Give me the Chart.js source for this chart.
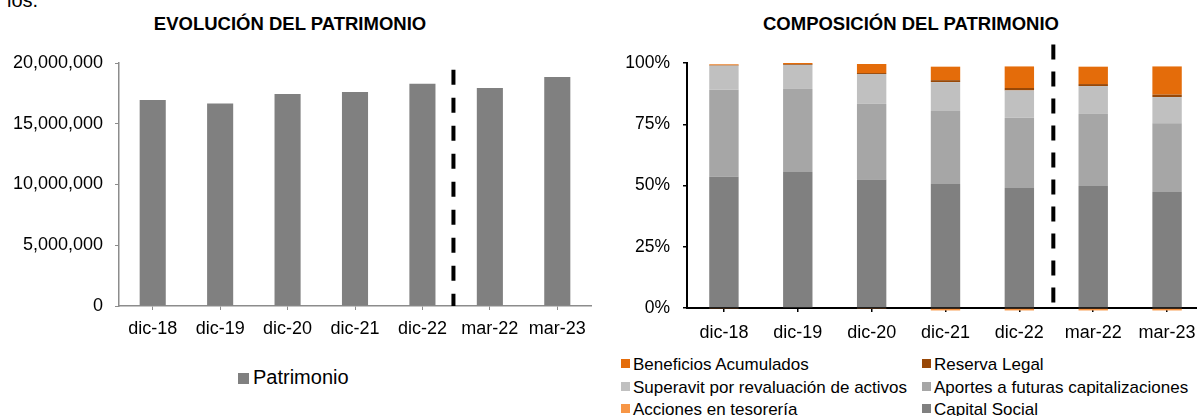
<!DOCTYPE html>
<html>
<head>
<meta charset="utf-8">
<script src="https://cdn.jsdelivr.net/npm/chart.js@4/dist/chart.umd.min.js"></script>
<style>
  html, body { margin: 0; padding: 0; background: #fff; }
  #page { position: relative; width: 1197px; height: 416px; overflow: hidden; font-family: 'Liberation Sans', Arial, sans-serif; color: #000; }
  canvas { position: absolute; top: 0; }
  .title { position: absolute; top: 15px; font-weight: bold; font-size: 18.5px; line-height: 18px; text-align: center; white-space: nowrap; }
  .lg { position: absolute; white-space: nowrap; }
  .lg .sw { position: absolute; left: 0; }
</style>
</head>
<body>
<div id="page">
  <div style="position:absolute;left:7px;top:-10px;font-size:20px;line-height:20px;">ios.</div>
  <div class="title" style="left:0;width:580px;">EVOLUCIÓN DEL PATRIMONIO</div>
  <div class="title" style="left:611px;width:600px;">COMPOSICIÓN DEL PATRIMONIO</div>
  <canvas id="c1" width="600" height="345" style="left:0"></canvas>
  <canvas id="c2" width="620" height="345" style="left:600px"></canvas>
  <div id="legend1"></div>
  <div id="legend2"></div>
</div>
<script>
// ---- Data ----
const categories = ['dic-18', 'dic-19', 'dic-20', 'dic-21', 'dic-22', 'mar-22', 'mar-23'];

const patrimonio = [16950000, 16670000, 17440000, 17610000, 18290000, 17940000, 18850000];
const patrimonioTicks = [0, 5000000, 10000000, 15000000, 20000000];

const capitalSocial   = [53.6, 55.5, 52.4, 50.6, 49.0, 49.8, 47.3];
const accionesTesoro  = [-0.4, 0.0, -0.2, -1.0, -1.0, -1.0, -1.0];
const aportesFuturas  = [35.5, 33.9, 30.9, 29.8, 28.6, 29.4, 28.1];
const superavit       = [9.8, 9.8, 12.2, 11.8, 11.2, 11.4, 10.7];
const reservaLegal    = [0.2, 0.3, 0.4, 0.8, 1.0, 0.8, 1.0];
const beneficiosAcum  = [0.35, 0.5, 3.7, 5.5, 8.8, 7.1, 11.5];
const pctTicks = [0, 25, 50, 75, 100];

const dividerAt = 4.46;           // separator between dic-22 and mar-22 (category index)
const dividerTopLeft = 19450000;  // top end of the separator, in value units
const dividerTopRight = 107.6;

Chart.defaults.font.family = "'Liberation Sans', Arial, sans-serif";
Chart.defaults.color = '#000';

function dividerPlugin(topValue, dash) {
  return {
    id: 'divider',
    afterDatasetsDraw(chart) {
      const x = chart.scales.x.getPixelForValue(dividerAt);
      const yTop = chart.scales.y.getPixelForValue(topValue);
      const yBot = chart.scales.y.getPixelForValue(0);
      const ctx = chart.ctx;
      ctx.save();
      ctx.strokeStyle = '#000';
      ctx.lineWidth = 4;
      ctx.setLineDash(dash);
      ctx.beginPath();
      ctx.moveTo(x, yTop);
      ctx.lineTo(x, yBot);
      ctx.stroke();
      ctx.restore();
    }
  };
}

// ---- Left chart ----
const leftDatasets = [
  { label: 'Patrimonio', data: patrimonio, backgroundColor: '#808080', barPercentage: 0.387, categoryPercentage: 1 }
];
new Chart(document.getElementById('c1'), {
  type: 'bar',
  data: { labels: categories, datasets: leftDatasets },
  options: {
    responsive: false, animation: false, devicePixelRatio: 1,
    layout: { padding: { top: 63, right: 9, left: 0, bottom: 0 } },
    plugins: { legend: { display: false }, tooltip: { enabled: false }, title: { display: false } },
    scales: {
      x: {
        afterFit: s => { s.height = 39; },
        grid: { display: true, drawOnChartArea: false, drawTicks: true, tickLength: 4, color: '#8c8c8c', offset: false },
        border: { display: true, color: '#8c8c8c', width: 1.5 },
        ticks: { font: { size: 18 }, padding: 8, maxRotation: 0, autoSkip: false, color: '#000' }
      },
      y: {
        min: 0, max: 20000000,
        afterFit: s => { s.width = 119; },
        afterBuildTicks: s => { s.ticks = patrimonioTicks.map(v => ({ value: v })); },
        grid: { display: true, drawOnChartArea: false, drawTicks: true, tickLength: 4, color: '#8c8c8c' },
        border: { display: true, color: '#8c8c8c', width: 1.5 },
        ticks: { font: { size: 18 }, padding: 12, color: '#000', callback: v => v.toLocaleString('en-US') }
      }
    }
  },
  plugins: [dividerPlugin(dividerTopLeft, [15, 13])]
});

// ---- Right chart ----
const rightDatasets = [
  { label: 'Capital Social', data: capitalSocial, backgroundColor: '#808080' },
  { label: 'Acciones en tesorería', data: accionesTesoro, backgroundColor: '#F79646' },
  { label: 'Aportes a futuras capitalizaciones', data: aportesFuturas, backgroundColor: '#A6A6A6' },
  { label: 'Superavit por revaluación de activos', data: superavit, backgroundColor: '#C0C0C0' },
  { label: 'Reserva Legal', data: reservaLegal, backgroundColor: '#984807' },
  { label: 'Beneficios Acumulados', data: beneficiosAcum, backgroundColor: '#E46C0A' }
].map(d => Object.assign(d, { barPercentage: 0.398, categoryPercentage: 1, clip: false }));

new Chart(document.getElementById('c2'), {
  type: 'bar',
  data: { labels: categories, datasets: rightDatasets },
  options: {
    responsive: false, animation: false, devicePixelRatio: 1,
    layout: { padding: { top: 63, right: 16, left: 0, bottom: 0 } },
    plugins: { legend: { display: false }, tooltip: { enabled: false }, title: { display: false } },
    scales: {
      x: {
        stacked: true,
        afterFit: s => { s.height = 37; },
        grid: { display: true, drawOnChartArea: false, drawTicks: true, tickLength: 4, color: '#000', offset: false, lineWidth: 1.5 },
        border: { display: true, color: '#000', width: 2 },
        ticks: { font: { size: 18 }, padding: 10, maxRotation: 0, autoSkip: false, color: '#000' }
      },
      y: {
        stacked: true, min: 0, max: 100,
        afterFit: s => { s.width = 87; },
        afterBuildTicks: s => { s.ticks = pctTicks.map(v => ({ value: v })); },
        grid: { display: true, drawOnChartArea: false, drawTicks: true, tickLength: 4, color: '#000', lineWidth: 1.5 },
        border: { display: true, color: '#000', width: 2 },
        ticks: { font: { size: 17.5 }, padding: 13, color: '#000', callback: v => v + '%' }
      }
    }
  },
  plugins: [dividerPlugin(dividerTopRight, [15, 12])]
});

// ---- HTML legends built from the datasets ----
function legendItem(ds, left, top, fontSize, sw, swTop, gap) {
  const d = document.createElement('div');
  d.className = 'lg';
  d.style.left = left + 'px';
  d.style.top = top + 'px';
  d.style.fontSize = fontSize + 'px';
  d.style.lineHeight = fontSize + 'px';
  d.style.paddingLeft = (sw + gap) + 'px';
  const s = document.createElement('span');
  s.className = 'sw';
  s.style.width = sw + 'px';
  s.style.height = sw + 'px';
  s.style.top = swTop + 'px';
  s.style.background = ds.backgroundColor;
  d.appendChild(s);
  d.appendChild(document.createTextNode(ds.label));
  return d;
}
const lg1 = document.getElementById('legend1');
lg1.appendChild(legendItem(leftDatasets[0], 238, 367, 20, 11, 6, 4));

const lg2 = document.getElementById('legend2');
const order = rightDatasets.slice().reverse();
const colX = [621, 922];
const rowTop = [356, 379, 401];
order.forEach((ds, i) => {
  lg2.appendChild(legendItem(ds, colX[i % 2], rowTop[Math.floor(i / 2)], 17, 9, 3, 3));
});
</script>
</body>
</html>
